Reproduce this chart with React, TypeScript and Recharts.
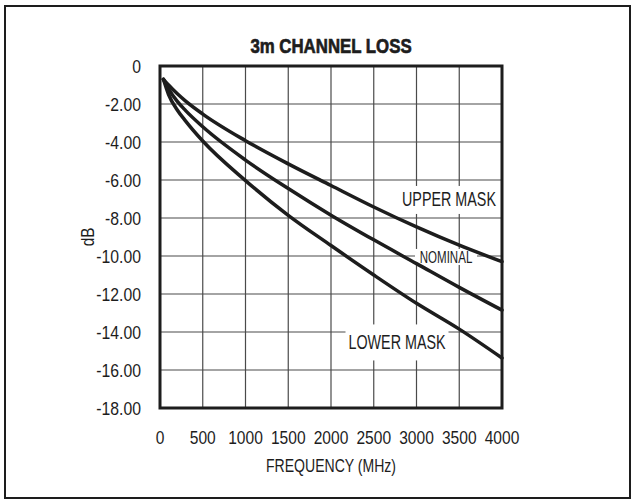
import React from 'react';
import { LineChart, Line, XAxis, YAxis, CartesianGrid, ReferenceArea, ReferenceDot } from 'recharts';

// frequency (MHz) and channel loss (dB) for the three traces
const freqMHz = [40, 100, 200, 300, 500, 1000, 1500, 2000, 2500, 3000, 3500, 4000];
const upperMask = [-0.7, -1.0, -1.45, -1.85, -2.53, -3.93, -5.15, -6.29, -7.42, -8.47, -9.43, -10.3];
const nominal = [-0.7, -1.2, -1.85, -2.35, -3.2, -4.95, -6.45, -7.85, -9.15, -10.4, -11.65, -12.85];
const lowerMask = [-0.7, -1.5, -2.3, -2.9, -3.95, -6.03, -7.86, -9.45, -11.0, -12.49, -13.85, -15.37];

const xTicks = [0, 500, 1000, 1500, 2000, 2500, 3000, 3500, 4000];
const yTicks = [0, -2, -4, -6, -8, -10, -12, -14, -16, -18];

// where the trace names sit, in data units
const traceLabels = [
  { text: 'UPPER MASK', x: 3380, y: -7.05, size: 19.5, sx: 0.735, w: 102, h: 28 },
  { text: 'NOMINAL', x: 3345, y: -10.05, size: 17, sx: 0.68, w: 62, h: 16 },
  { text: 'LOWER MASK', x: 2772, y: -14.55, size: 19.5, sx: 0.735, w: 103, h: 36 },
];

const FONT = "'Liberation Sans', Arial, sans-serif";
const INK = '#1d1d1d';

const data = freqMHz.map((f, i) => ({
  f,
  upper: upperMask[i],
  nominal: nominal[i],
  lower: lowerMask[i],
}));

// Helvetica-condensed look: squeeze regular text horizontally
const NarrowText = ({ x, y, size, sx, anchor, baseline, children }: any) => (
  <text
    transform={`translate(${x},${y}) scale(${sx},1)`}
    textAnchor={anchor}
    dominantBaseline={baseline}
    fontSize={size}
    fontFamily={FONT}
    fill={INK}
  >
    {children}
  </text>
);

const XTick = ({ x, y, payload }: any) => (
  <NarrowText x={x} y={y} size={19} sx={0.82} anchor="middle" baseline="hanging">
    {payload.value}
  </NarrowText>
);

const YTick = ({ x, y, payload }: any) => (
  <NarrowText x={x} y={y} size={19} sx={0.83} anchor="end" baseline="central">
    {payload.value === 0 ? '0' : Number(payload.value).toFixed(2)}
  </NarrowText>
);

const boxedLabel = (text: string, size: number, sx: number, w: number, h: number) => (props: any) => {
  const { cx, cy } = props;
  return (
    <g>
      <rect x={cx - w / 2} y={cy - h / 2} width={w} height={h} fill="#fff" />
      <NarrowText x={cx} y={cy} size={size} sx={sx} anchor="middle" baseline="central">
        {text}
      </NarrowText>
    </g>
  );
};

const squeezed = (sx: number): React.CSSProperties => ({ transform: `scaleX(${sx})`, transformOrigin: 'center' });

export default function App() {
  return (
    <div style={{ position: 'fixed', left: 0, top: 0, width: 634, height: 502, background: '#fff', fontFamily: FONT, color: INK }}>
      <div style={{ position: 'absolute', left: 4, top: 5, width: 623, height: 490, border: `2px solid ${INK}` }} />
      <div
        style={{
          position: 'absolute',
          left: 0,
          width: 662,
          top: 34,
          textAlign: 'center',
          fontSize: 21,
          fontWeight: 'bold',
          lineHeight: '24px',
          WebkitTextStroke: `0.7px ${INK}`,
          ...squeezed(0.8),
        }}
      >
        3m CHANNEL LOSS
      </div>
      <div style={{ position: 'absolute', left: 88, top: 237, transform: 'translate(-50%, -50%) rotate(-90deg) scaleX(0.85)', fontSize: 18, lineHeight: '20px' }}>
        dB
      </div>
      <div style={{ position: 'absolute', left: 0, width: 662, top: 456, textAlign: 'center', fontSize: 18, lineHeight: '20px', ...squeezed(0.78) }}>
        FREQUENCY (MHz)
      </div>
      <LineChart width={634} height={502} data={data} margin={{ top: 66, right: 132, bottom: 0, left: 100 }} style={{ position: 'absolute', left: 0, top: 0 }}>
        <CartesianGrid stroke="#4a4a4a" strokeWidth={1.2} horizontalValues={yTicks} verticalValues={xTicks} />
        <XAxis
          dataKey="f"
          type="number"
          domain={[0, 4000]}
          ticks={xTicks}
          axisLine={false}
          tickLine={false}
          tickSize={0}
          tickMargin={22}
          height={94}
          interval={0}
          tick={<XTick />}
        />
        <YAxis
          type="number"
          domain={[-18, 0]}
          ticks={yTicks}
          axisLine={false}
          tickLine={false}
          tickSize={0}
          tickMargin={19}
          width={60}
          interval={0}
          tick={<YTick />}
        />
        {traceLabels.map((l) => (
          <ReferenceDot key={l.text} x={l.x} y={l.y} r={0} zIndex={50} shape={boxedLabel(l.text, l.size, l.sx, l.w, l.h)} />
        ))}
        <Line type="monotone" dataKey="upper" stroke={INK} strokeWidth={3.5} strokeLinecap="round" dot={false} isAnimationActive={false} />
        <Line type="monotone" dataKey="nominal" stroke={INK} strokeWidth={3.5} strokeLinecap="round" dot={false} isAnimationActive={false} />
        <Line type="monotone" dataKey="lower" stroke={INK} strokeWidth={3.5} strokeLinecap="round" dot={false} isAnimationActive={false} />
        <ReferenceArea x1={0} x2={4000} y1={-18} y2={0} fill="none" stroke={INK} strokeWidth={3} />
      </LineChart>
    </div>
  );
}
